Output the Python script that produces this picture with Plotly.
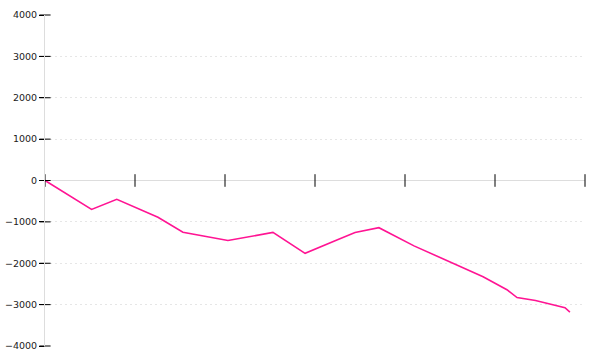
import plotly.graph_objects as go

# data (x in arbitrary time units, 4 units per major tick)
x_vals = [0, 2.07, 3.19, 5.02, 6.13, 7.0, 8.13, 10.13, 11.56, 13.0, 13.78, 14.84, 15.8, 16.4, 19.47, 20.53, 20.98, 21.8, 23.11, 23.33]
y_vals = [0, -700, -455, -890, -1250, -1330, -1450, -1255, -1760, -1430, -1255, -1140, -1420, -1580, -2325, -2640, -2830, -2900, -3075, -3180]

x_ticks = [0, 4, 8, 12, 16, 20, 24]
y_ticks = [-4000, -3000, -2000, -1000, 0, 1000, 2000, 3000, 4000]
y_tick_text = ["\u22124000", "\u22123000", "\u22122000", "\u22121000", "0", "1000", "2000", "3000", "4000"]

fig = go.Figure()

fig.add_trace(go.Scatter(
    x=x_vals, y=y_vals, mode="lines",
    line=dict(color="#ff1493", width=1.6),
    hoverinfo="skip", showlegend=False,
))

# crossing tick marks on the x axis (at y = 0)
fig.add_trace(go.Scatter(
    x=x_ticks, y=[0] * len(x_ticks), mode="markers",
    marker=dict(symbol="line-ns", size=9, line=dict(color="black", width=1)),
    cliponaxis=False, hoverinfo="skip", showlegend=False,
))

# crossing tick marks on the y axis (at x = 0)
fig.add_trace(go.Scatter(
    x=[0] * len(y_ticks), y=y_ticks, mode="markers",
    marker=dict(symbol="line-ew", size=8, line=dict(color="black", width=1)),
    cliponaxis=False, hoverinfo="skip", showlegend=False,
))

fig.update_layout(
    width=600, height=360,
    margin=dict(l=45, r=15, t=15, b=14, autoexpand=False),
    paper_bgcolor="white", plot_bgcolor="white",
    font=dict(family="DejaVu Sans", size=9.5, color="#222222"),
    xaxis=dict(
        range=[0, 24], showgrid=False, zeroline=False, showline=False,
        showticklabels=False, ticks="", fixedrange=True, automargin=False,
    ),
    yaxis=dict(
        range=[-4000, 4000], tickvals=y_ticks, ticktext=y_tick_text,
        showgrid=True, gridcolor="#e6e6e6", griddash="2px,3px", gridwidth=1,
        zeroline=True, zerolinecolor="#dddddd", zerolinewidth=1,
        showline=True, linecolor="#dddddd", linewidth=1,
        ticks="outside", ticklen=5, tickcolor="black",
        fixedrange=True, automargin=False,
    ),
)

fig.write_html("out.html")
